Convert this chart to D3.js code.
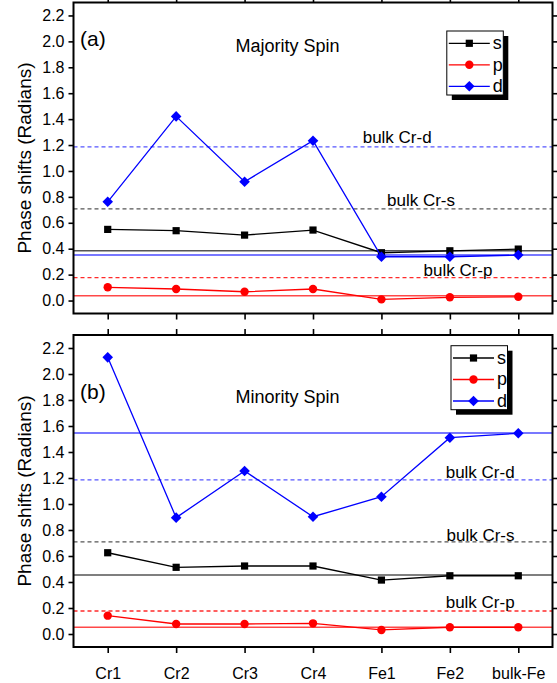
<!DOCTYPE html>
<html>
<head>
<meta charset="utf-8">
<script src="https://cdn.jsdelivr.net/npm/d3@7"></script>
<style>
  html, body { margin: 0; padding: 0; background: #fff; }
  svg { display: block; font-family: "Liberation Sans", Arial, sans-serif; }
</style>
</head>
<body>
<svg id="chart" width="557" height="683"></svg>
<script>
// Sites along the Cr/Fe interface
const sites = ["Cr1", "Cr2", "Cr3", "Cr4", "Fe1", "Fe2", "bulk-Fe"];
const yTicks = [0.0, 0.2, 0.4, 0.6, 0.8, 1.0, 1.2, 1.4, 1.6, 1.8, 2.0, 2.2];

// Majority spin phase shifts (radians)
const majS = [0.549, 0.539, 0.505, 0.544, 0.369, 0.384, 0.397];
const majP = [0.102, 0.089, 0.068, 0.089, 0.009, 0.025, 0.029];
const majD = [0.762, 1.421, 0.917, 1.233, 0.338, 0.338, 0.351];
// Majority spin bulk-Fe reference levels (s, p, d)
const majBulkFe = [0.384, 0.037, 0.351];

// Minority spin phase shifts (radians)
const minS = [0.625, 0.513, 0.523, 0.523, 0.415, 0.448, 0.448];
const minP = [0.141, 0.077, 0.077, 0.082, 0.031, 0.052, 0.052];
const minD = [2.128, 0.895, 1.254, 0.902, 1.056, 1.510, 1.544];
// Minority spin bulk-Fe reference levels (s, p, d)
const minBulkFe = [0.454, 0.052, 1.546];

// Bulk Cr reference levels (s, p, d), same in both spin channels
const bulkCr = [0.708, 0.177, 1.186];
const bulkCrLabels = ["bulk Cr-s", "bulk Cr-p", "bulk Cr-d"];

const orbitals = ["s", "p", "d"];
const colors = { s: "#000000", p: "#ff0000", d: "#0000ff" };
const refSolid = { s: "#555555", p: "#ff4848", d: "#4b4bff" };
const refDash = { s: "#555555", p: "#ff2a2a", d: "#5555ff" };

const svg = d3.select("#chart");
const left = 73.5, right = 552.5;

const x = d3.scaleLinear().domain([-0.5, sites.length - 0.5]).range([left, right]);

function marker(g, type, cx, cy, color) {
  if (type === "s") {
    g.append("rect").attr("x", cx - 3.6).attr("y", cy - 3.6)
      .attr("width", 7.2).attr("height", 7.2).attr("fill", color);
  } else if (type === "p") {
    g.append("circle").attr("cx", cx).attr("cy", cy).attr("r", 4.2).attr("fill", color);
  } else {
    const r = 5.3;
    g.append("path")
      .attr("d", `M${cx},${cy - r}L${cx + r},${cy}L${cx},${cy + r}L${cx - r},${cy}Z`)
      .attr("fill", color);
  }
}

function panel(cfg) {
  const y = d3.scaleLinear().domain([-0.1, 2.3]).range([cfg.bottom, cfg.top]);
  const g = svg.append("g");

  // reference lines: bulk Cr (dashed) and bulk Fe (solid)
  orbitals.forEach((o, i) => {
    g.append("line").attr("x1", left).attr("x2", right)
      .attr("y1", y(bulkCr[i])).attr("y2", y(bulkCr[i]))
      .attr("stroke", refDash[o]).attr("stroke-width", 1.3)
      .attr("stroke-dasharray", "4,3");
    g.append("line").attr("x1", left).attr("x2", right)
      .attr("y1", y(cfg.bulkFe[i])).attr("y2", y(cfg.bulkFe[i]))
      .attr("stroke", refSolid[o]).attr("stroke-width", 1.4);
  });

  // bulk Cr labels
  cfg.crLabelPos.forEach((p, i) => {
    g.append("text").attr("x", p[0]).attr("y", p[1])
      .attr("font-size", 17).attr("fill", "#000").text(bulkCrLabels[i]);
  });

  // data series
  const line = d3.line().x((d, i) => x(i)).y(d => y(d));
  const series = { s: cfg.s, p: cfg.p, d: cfg.d };
  orbitals.forEach(o => {
    g.append("path").datum(series[o]).attr("d", line)
      .attr("fill", "none").attr("stroke", colors[o]).attr("stroke-width", 1.3);
    series[o].forEach((v, i) => marker(g, o, x(i), y(v), colors[o]));
  });

  // axes
  const ax = g.append("g");
  ax.append("g").attr("transform", `translate(${left},0)`)
    .call(d3.axisLeft(y).tickValues(yTicks).tickSize(5).tickPadding(4).tickFormat(d3.format(".1f")))
    .call(s => s.select(".domain").remove())
    .call(s => s.selectAll("text").attr("font-size", 16).attr("fill", "#000")
      .attr("font-family", "Liberation Sans, Arial, sans-serif"));
  ax.append("g").attr("transform", `translate(${right},0)`)
    .call(d3.axisRight(y).tickValues(yTicks).tickSize(5).tickFormat(""))
    .call(s => s.select(".domain").remove());
  ax.append("g").attr("transform", `translate(0,${cfg.top})`)
    .call(d3.axisTop(x).tickValues(d3.range(sites.length)).tickSize(6).tickFormat(""))
    .call(s => s.select(".domain").remove());
  const bx = ax.append("g").attr("transform", `translate(0,${cfg.bottom})`)
    .call(d3.axisBottom(x).tickValues(d3.range(sites.length)).tickSize(6)
      .tickPadding(15).tickFormat(i => cfg.showLabels ? sites[i] : ""))
    .call(s => s.select(".domain").remove());
  bx.selectAll("text").attr("font-size", 16).attr("fill", "#000")
    .attr("font-family", "Liberation Sans, Arial, sans-serif");
  ax.selectAll(".tick line").attr("stroke", "#000").attr("stroke-width", 1.6);

  // frame
  g.append("rect").attr("x", left).attr("y", cfg.top)
    .attr("width", right - left).attr("height", cfg.bottom - cfg.top)
    .attr("fill", "none").attr("stroke", "#000").attr("stroke-width", 2);

  // y-axis title
  g.append("text")
    .attr("transform", `translate(31,${(cfg.top + cfg.bottom) / 2}) rotate(-90)`)
    .attr("text-anchor", "middle").attr("font-size", 19).attr("fill", "#000")
    .text("Phase shifts (Radians)");

  // panel tag and title
  g.append("text").attr("x", 80).attr("y", cfg.tagY).attr("font-size", 21).text(cfg.tag);
  g.append("text").attr("x", 235.5).attr("y", cfg.titleY).attr("font-size", 18).text(cfg.title);

  // legend
  const lg = g.append("g").attr("transform", `translate(${cfg.legend[0]},${cfg.legend[1]})`);
  lg.append("rect").attr("x", 5).attr("y", 5).attr("width", 56.5).attr("height", 64).attr("fill", "#000");
  lg.append("rect").attr("x", 0).attr("y", 0).attr("width", 56.5).attr("height", 64)
    .attr("fill", "#fff").attr("stroke", "#000").attr("stroke-width", 1);
  orbitals.forEach((o, i) => {
    const ly = 12.3 + i * 21.5;
    lg.append("line").attr("x1", 2).attr("x2", 43).attr("y1", ly).attr("y2", ly)
      .attr("stroke", colors[o]).attr("stroke-width", 1.3);
    marker(lg, o, 22.5, ly, colors[o]);
    lg.append("text").attr("x", 46).attr("y", ly + 6).attr("font-size", 18).text(o);
  });
}

panel({
  top: 2.5, bottom: 313.5, s: majS, p: majP, d: majD, bulkFe: majBulkFe,
  crLabelPos: [[387, 206], [423.5, 276], [362.7, 142.5]],
  tag: "(a)", tagY: 45.5, title: "Majority Spin", titleY: 52,
  legend: [446.8, 31], showLabels: false
});

panel({
  top: 335, bottom: 647, s: minS, p: minP, d: minD, bulkFe: minBulkFe,
  crLabelPos: [[446.5, 541], [445.7, 608.3], [445.7, 478.3]],
  tag: "(b)", tagY: 398.5, title: "Minority Spin", titleY: 403,
  legend: [451, 345.7], showLabels: true
});
</script>
</body>
</html>
